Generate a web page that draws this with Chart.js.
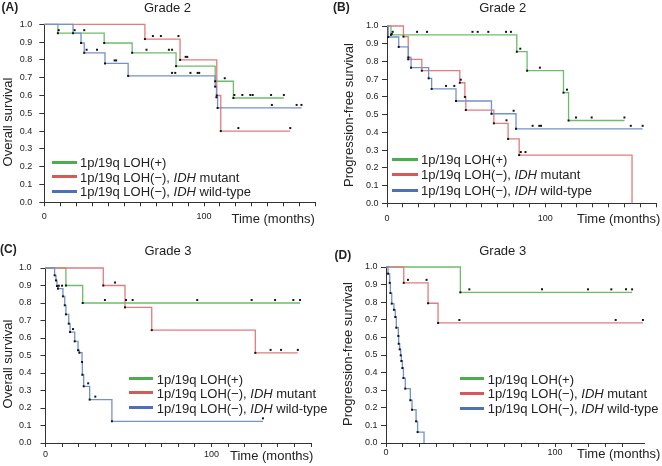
<!DOCTYPE html>
<html><head><meta charset="utf-8">
<script src="https://cdn.jsdelivr.net/npm/chart.js@4.4.1/dist/chart.umd.min.js"></script>
<style>
body{margin:0;width:662px;height:466px;position:relative;background:#fff;font-family:"Liberation Sans",Arial,sans-serif;overflow:hidden}
canvas.p{position:absolute}
.t{position:absolute;white-space:nowrap;font-size:13px;color:#222;line-height:15px;transform:translateY(-50%)}
.c{transform:translate(-50%,-50%)}
.r{transform:translate(-50%,-50%) rotate(-90deg)}
.b{font-weight:bold;font-size:12px}
.lg{position:absolute;height:3px}
</style></head><body>
<canvas class="p" id="cA" width="331" height="233" style="left:0;top:0"></canvas>
<canvas class="p" id="cB" width="331" height="233" style="left:331px;top:0"></canvas>
<canvas class="p" id="cC" width="331" height="233" style="left:0;top:233px"></canvas>
<canvas class="p" id="cD" width="331" height="233" style="left:331px;top:233px"></canvas>
<div id="txt"></div>
<script>
// ---------- Data (months, survival probability) ----------
// Panel A: Grade 2, overall survival
const aGreenT = [0, 8.5, 37.5, 55, 82.5, 107, 118.4, 150];
const aGreenS = [1, 0.95, 0.895, 0.84, 0.765, 0.68, 0.586, 0.586];
const aGreenC = [9, 19, 25, 64, 78, 80, 113, 119, 124, 129, 130.5, 142, 150];
const aRedT = [0, 63, 85, 108, 110.5, 154];
const aRedS = [1, 0.917, 0.8, 0.6, 0.4, 0.4];
const aRedC = [68, 73, 84, 88.5, 89.5, 121.5, 154];
const aBlueT = [0, 18, 23, 25, 38, 52.5, 107, 107.8, 108.5, 161];
const aBlueS = [1, 0.95, 0.895, 0.84, 0.78, 0.71, 0.65, 0.59, 0.53, 0.53];
const aBlueC = [26.5, 33, 44, 45, 80, 82, 91.5, 96, 97, 142.5, 158, 161];
// Panel B: Grade 2, progression-free survival
const bGreenT = [0, 2.5, 82, 88.5, 111.5, 114.7, 150];
const bGreenS = [1, 0.95, 0.855, 0.748, 0.624, 0.467, 0.467];
const bGreenC = [3.6, 19, 25.3, 54, 57.3, 64, 75.2, 78.3, 84.2, 96.6, 113.7, 119.4, 129.3, 150];
const bRedT = [0, 10.4, 13.4, 22, 46, 49.2, 49.8, 67.5, 76.5, 83.5, 154.8];
const bRedS = [1, 0.94, 0.812, 0.748, 0.68, 0.6, 0.526, 0.451, 0.363, 0.272, 0];
const bRedC = [46.6, 75.5, 84.5, 87.5];
const bBlueT = [0, 0.8, 7.4, 13.5, 15.2, 26.3, 28.2, 43.6, 66, 81.5, 161.5];
const bBlueS = [1, 0.938, 0.882, 0.823, 0.765, 0.705, 0.645, 0.577, 0.505, 0.42, 0.42];
const bBlueC = [3, 37.3, 42.5, 80, 92, 96.2, 97.3, 154, 161.5];
// Panel C: Grade 3, overall survival
const cGreenT = [0, 12.3, 22.4, 153.3];
const cGreenS = [1, 0.9, 0.8, 0.8];
const cGreenC = [35.8, 48.5, 52.5, 91.4, 124.2, 138.3, 149.3, 153.3];
const cRedT = [0, 34.8, 47.9, 64, 126.4, 152];
const cRedS = [1, 0.9, 0.775, 0.645, 0.515, 0.515];
const cRedC = [41.9, 135.6, 141.9, 152];
const cBlueT = [0, 5.5, 6.3, 6.9, 7.5, 10.5, 11.6, 12.3, 14, 14.8, 17.6, 19.6, 20.4, 22, 22.2, 23, 26.6, 40, 131];
const cBlueS = [1, 0.958, 0.929, 0.897, 0.882, 0.838, 0.787, 0.735, 0.682, 0.634, 0.581, 0.53, 0.516, 0.463, 0.39, 0.324, 0.248, 0.124, 0.124];
const cBlueC = [8, 10, 16.6, 25.7, 30, 131];
// Panel D: Grade 3, progression-free survival
const dGreenT = [0, 44, 145.6];
const dGreenS = [1, 0.856, 0.856];
const dGreenC = [49.3, 92.3, 119.5, 133.3, 142, 145.6];
const dRedT = [0, 10.5, 24.9, 30.8, 152];
const dRedS = [1, 0.91, 0.794, 0.682, 0.682];
const dRedC = [13, 24, 43.4, 135.9, 152];
const dBlueT = [0, 1.2, 2.2, 2.6, 3.4, 4.7, 5.5, 6.1, 7.3, 7.5, 8.1, 8.7, 9.1, 9.7, 10.3, 11.4, 14.4, 15.4, 17.8, 18.7, 22.5];
const dBlueS = [1, 0.962, 0.91, 0.852, 0.792, 0.757, 0.716, 0.655, 0.608, 0.564, 0.532, 0.498, 0.466, 0.426, 0.369, 0.309, 0.243, 0.189, 0.123, 0.062, 0];
const dBlueC = [];

const xTickLabels = [0, 100];
const yTitles = ["Overall survival", "Progression-free survival", "Overall survival", "Progression-free survival"];
const panelTitles = ["Grade 2", "Grade 2", "Grade 3", "Grade 3"];
const panelLetters = ["(A)", "(B)", "(C)", "(D)"];
const legendLabels = ["1p/19q LOH(+)", "1p/19q LOH(\u2212), <i>IDH</i> mutant", "1p/19q LOH(\u2212), <i>IDH</i> wild-type"];

// ---------- Styling ----------
const FONT = '"Liberation Sans", Arial, sans-serif';
const lineCol = ['#6cbd6a', '#e07d7d', '#7391cc'];
const legCol = ['#4aae4c', '#d65a5a', '#4d70b8'];

function stepAt(T, S, t) { let v = S[0]; for (let i = 0; i < T.length; i++) if (T[i] <= t) v = S[i]; return v; }

function seriesSets(T, S, C, k) {
  const line = T.map((t, i) => ({x: t, y: S[i]}));
  const ev = [];
  for (let i = 1; i < T.length - 1; i++) ev.push({x: T[i], y: S[i]});
  const cens = C.map(t => ({x: t, y: stepAt(T, S, t) + 0.017}));
  return [
    {data: line, borderColor: lineCol[k], borderWidth: 1.3, stepped: 'before', pointRadius: 0, fill: false, clip: false, order: 3 - k},
    {data: ev, showLine: false, pointStyle: 'rect', pointRadius: 1.4, backgroundColor: '#111', borderWidth: 0, clip: false, order: 0},
    {data: cens, showLine: false, pointStyle: 'rect', pointRadius: 1.4, backgroundColor: '#111', borderWidth: 0, clip: false, order: 0}
  ];
}

function makeChart(id, groups, g) {
  const datasets = [];
  groups.forEach((s, k) => datasets.push(...seriesSets(s[0], s[1], s[2], k)));
  const xh = 20;
  new Chart(document.getElementById(id), {
    type: 'line',
    data: {datasets},
    options: {
      responsive: false, animation: false, events: [],
      layout: {padding: {left: 0, right: g.pr, top: g.top, bottom: 233 - g.bottom - xh}},
      plugins: {legend: {display: false}, tooltip: {enabled: false}},
      scales: {
        x: {
          type: 'linear', min: 0, max: g.xmax,
          afterBuildTicks: s => { s.ticks = s.ticks.filter(t => Math.abs(t.value % 10) < 1e-6); },
          afterFit: s => { s.height = xh; },
          ticks: {stepSize: 10, autoSkip: false, maxRotation: 0, padding: g.xpad, color: '#222',
            font: {size: 9, family: FONT},
            callback: v => xTickLabels.includes(v) ? String(v) : ''},
          grid: {display: true, drawOnChartArea: false, drawTicks: true, tickLength: 4, color: '#333', tickColor: '#333'},
          border: {display: true, color: '#333', width: 1}
        },
        y: {
          type: 'linear', min: 0, max: 1,
          afterFit: s => { s.width = g.yw; },
          ticks: {stepSize: 0.1, padding: g.ypad, color: '#222', font: {size: 9, family: FONT},
            callback: v => v.toFixed(1)},
          grid: {display: true, drawOnChartArea: false, drawTicks: true, tickLength: 5, color: '#333', tickColor: '#333'},
          border: {display: true, color: '#333', width: 1}
        }
      }
    }
  });
}

makeChart('cA', [[aGreenT, aGreenS, aGreenC], [aRedT, aRedS, aRedC], [aBlueT, aBlueS, aBlueC]],
  {yw: 44.3, pr: 15.2, top: 24.3, bottom: 202.3, xmax: 170, ypad: 7, xpad: 5});
makeChart('cB', [[bGreenT, bGreenS, bGreenC], [bRedT, bRedS, bRedC], [bBlueT, bBlueS, bBlueC]],
  {yw: 56, pr: 5.9, top: 26, bottom: 203.3, xmax: 170, ypad: 3.5, xpad: 5.6});
makeChart('cC', [[cGreenT, cGreenS, cGreenC], [cRedT, cRedS, cRedC], [cBlueT, cBlueS, cBlueC]],
  {yw: 45.5, pr: 19.9, top: 35, bottom: 210, xmax: 160, ypad: 9, xpad: 2.3});
makeChart('cD', [[dGreenT, dGreenS, dGreenC], [dRedT, dRedS, dRedC], [dBlueT, dBlueS, dBlueC]],
  {yw: 55, pr: 17.4, top: 34, bottom: 210, xmax: 153, ypad: 3.5, xpad: 0.6});

// ---------- Text overlays ----------
const box = document.getElementById('txt');
function add(html, x, y, cls) {
  const d = document.createElement('div');
  d.className = 't ' + (cls || '');
  d.innerHTML = html;
  d.style.left = x + 'px'; d.style.top = y + 'px';
  box.appendChild(d);
}
// letters
add(panelLetters[0], 1.5, 6.7, 'b');
add(panelLetters[1], 333, 7.3, 'b');
add(panelLetters[2], 0, 249, 'b');
add(panelLetters[3], 334.5, 254.7, 'b');
// titles
add(panelTitles[0], 167.5, 7.3, 'c');
add(panelTitles[1], 502.7, 7.3, 'c');
add(panelTitles[2], 168, 249.7, 'c');
add(panelTitles[3], 502.7, 249.7, 'c');
// y titles
add(yTitles[0], 7, 121.7, 'r');
add(yTitles[1], 347.7, 115, 'r');
add(yTitles[2], 6.5, 364, 'r');
add(yTitles[3], 347.3, 354, 'r');
// x titles
add('Time (months)', 231.5, 218.3);
add('Time (months)', 577, 218.3);
add('Time (months)', 230, 454.7);
add('Time (months)', 577, 453);
// legends
function legend(x0, x1, tx, ys) {
  ys.forEach((y, k) => {
    const l = document.createElement('div');
    l.className = 'lg';
    l.style.left = x0 + 'px'; l.style.width = (x1 - x0) + 'px';
    l.style.top = (y - 1.5) + 'px'; l.style.background = legCol[k];
    box.appendChild(l);
    add(legendLabels[k], tx, y);
  });
}
legend(51.7, 77.3, 80, [162.3, 176.6, 191]);
legend(392, 418.3, 421, [159.3, 174.3, 190]);
legend(129.3, 153.3, 156.7, [378.7, 392.8, 407.5]);
legend(460.3, 484.3, 487.7, [378.7, 393, 408]);
</script>
</body></html>
